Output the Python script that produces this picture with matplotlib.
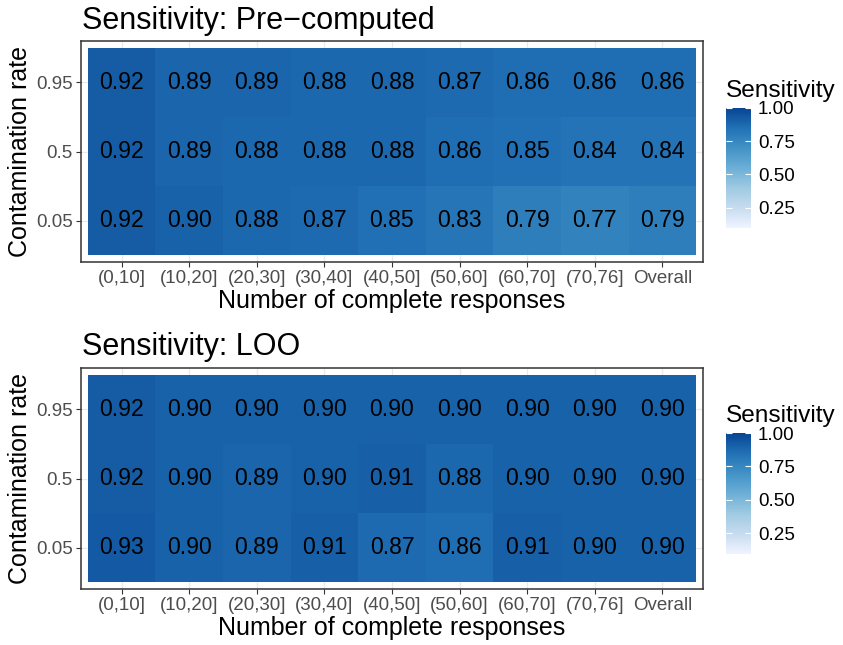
import matplotlib
matplotlib.use("Agg")
import matplotlib.pyplot as plt
import numpy as np
from matplotlib.colors import LinearSegmentedColormap

plt.rcParams['font.family'] = ['Liberation Sans', 'DejaVu Sans']

# data, rows from bottom (0.05) to top (0.95)
categories = ['(0,10]', '(10,20]', '(20,30]', '(30,40]', '(40,50]',
              '(50,60]', '(60,70]', '(70,76]', 'Overall']
rates = ['0.05', '0.5', '0.95']

precomputed = [
    [0.92, 0.90, 0.88, 0.87, 0.85, 0.83, 0.79, 0.77, 0.79],
    [0.92, 0.89, 0.88, 0.88, 0.88, 0.86, 0.85, 0.84, 0.84],
    [0.92, 0.89, 0.89, 0.88, 0.88, 0.87, 0.86, 0.86, 0.86],
]
loo = [
    [0.93, 0.90, 0.89, 0.91, 0.87, 0.86, 0.91, 0.90, 0.90],
    [0.92, 0.90, 0.89, 0.90, 0.91, 0.88, 0.90, 0.90, 0.90],
    [0.92, 0.90, 0.90, 0.90, 0.90, 0.90, 0.90, 0.90, 0.90],
]
titles = ['Sensitivity: Pre\u2212computed', 'Sensitivity: LOO']

# brewer Blues (7) like scale_fill_distiller
blues = ['#EFF3FF', '#C6DBEF', '#9ECAE1', '#6BAED6', '#4292C6', '#2171B5', '#084594']
cmap = LinearSegmentedColormap.from_list('blues7', blues)
vmin, vmax = 0.1, 1.0

W, H = 843, 645
fig = plt.figure(figsize=(W / 100, H / 100), dpi=100)


def rect(x0, y0, x1, y1):
    return [x0 / W, 1 - y1 / H, (x1 - x0) / W, (y1 - y0) / H]


panels = [
    (precomputed, titles[0], rect(81, 41, 703, 262), rect(726, 108, 751, 227.5)),
    (loo, titles[1], rect(81, 368, 703, 589), rect(726, 433, 751, 553.5)),
]

for data, title, ax_rect, cb_rect in panels:
    vals = np.array(data)
    ax = fig.add_axes(ax_rect)
    ax.set_axisbelow(True)
    ax.grid(True, color='#EBEBEB', linewidth=1.0)
    xe = np.arange(len(categories) + 1) - 0.5
    ye = np.arange(len(rates) + 1) - 0.5
    mesh = ax.pcolormesh(xe, ye, vals, cmap=cmap, vmin=vmin, vmax=vmax)
    for i in range(vals.shape[0]):
        for j in range(vals.shape[1]):
            ax.text(j, i, f'{vals[i, j]:.2f}', ha='center', va='center',
                    fontsize=16.6, color='black')
    ax.set_xlim(-0.6, len(categories) - 0.4)
    ax.set_ylim(-0.6, len(rates) - 0.4)
    ax.set_xticks(range(len(categories)))
    ax.set_xticklabels(categories)
    ax.set_yticks(range(len(rates)))
    ax.set_yticklabels(rates)
    ax.tick_params(labelsize=13.5, labelcolor='#4D4D4D', color='#333333',
                   length=3.5, width=0.8, pad=2.5)
    for s in ax.spines.values():
        s.set_color('#333333')
        s.set_linewidth(1.1)
    ax.set_xlabel('Number of complete responses', fontsize=18, labelpad=1)
    ax.set_ylabel('Contamination rate', fontsize=18, labelpad=3)
    ax.set_title(title, loc='left', fontsize=22, pad=9, x=0.002)

    cax = fig.add_axes(cb_rect)
    cb = fig.colorbar(mesh, cax=cax, ticks=[0.25, 0.5, 0.75, 1.0], format='%.2f')
    cb.outline.set_visible(False)
    cax.tick_params(direction='in', left=True, right=True, color='white',
                    length=4, width=0.8, labelsize=13.6, labelcolor='black', pad=5)
    cax.set_title('Sensitivity', loc='left', fontsize=17.6, pad=8)

fig.savefig('out.png', dpi=100)
